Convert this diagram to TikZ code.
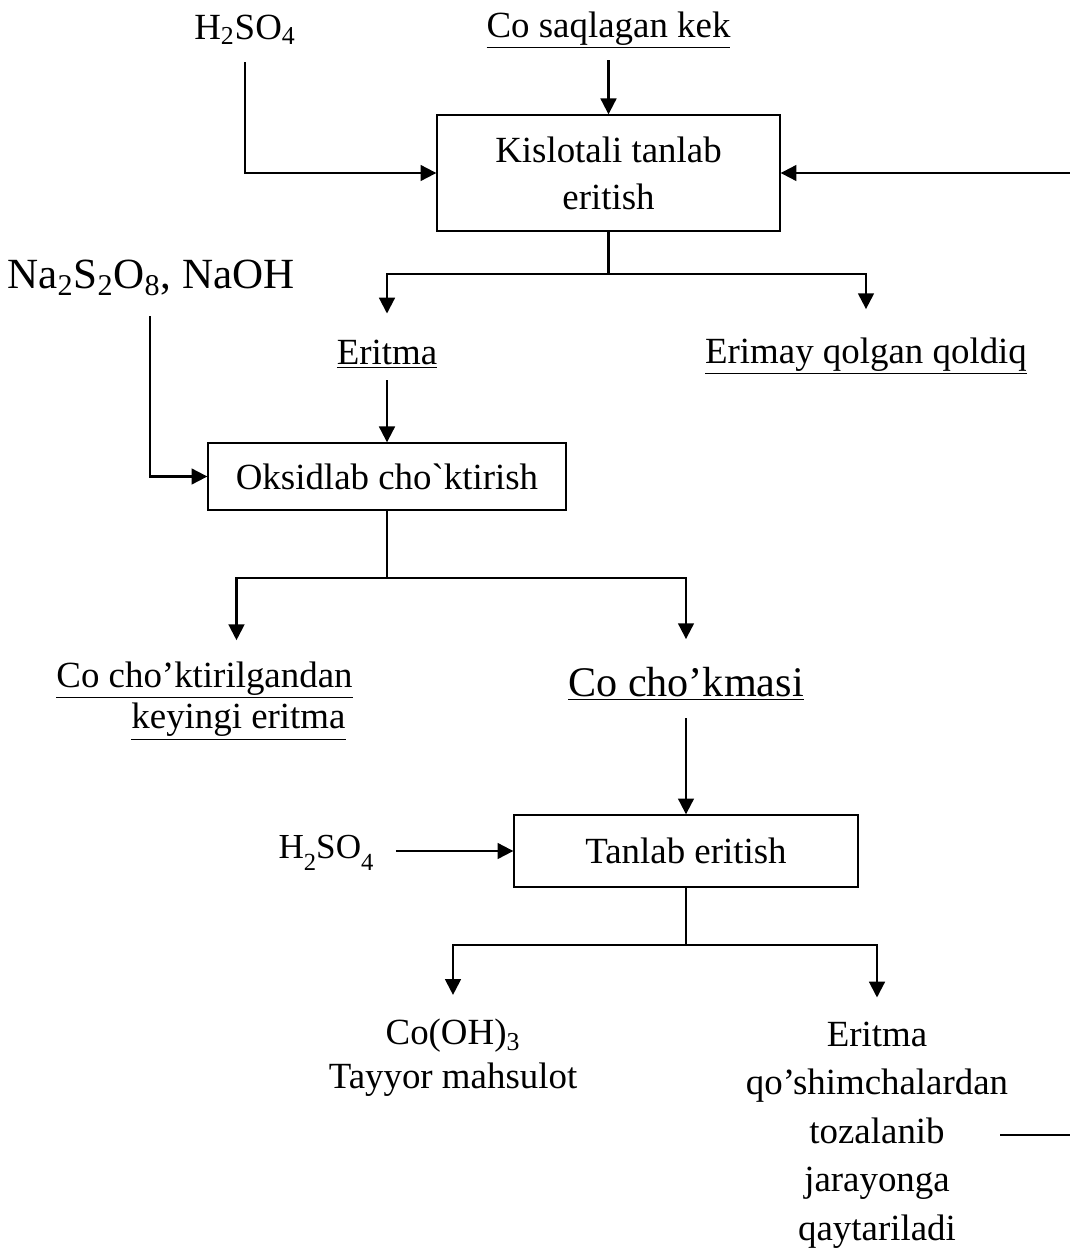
\documentclass[tikz,border=0pt]{standalone}
\usepackage{fontspec}
\setmainfont{Liberation Serif}
\usetikzlibrary{arrows.meta}
\newcommand{\lowsub}[1]{\raisebox{-7pt}{\fontsize{14}{14}\selectfont #1}}

\begin{document}
\begin{tikzpicture}[x=0.02cm,y=-0.02cm,
    flow/.style={-{Triangle[length=9pt,width=9pt]},line width=1.2pt},
    line/.style={line width=1.2pt},
    box/.style={draw,line width=0.8pt,inner sep=0pt,align=center,
                font=\fontsize{21}{26.7}\selectfont},
    lbl/.style={inner sep=0pt,align=center,font=\fontsize{21}{27.6}\selectfont}]
    \useasboundingbox (0,0) rectangle (1070,1251);
    %leaching
    \node [lbl] (acid1) at (245,30) {H\textsubscript{2}SO\textsubscript{4}};
    \node [lbl] (kek) at (608.5,30) {\underline{Co saqlagan kek}};
    \node [box,minimum width=6.86cm,minimum height=2.32cm] (leach) at (608.5,173)
          {Kislotali tanlab\\eritish};
    \coordinate (edgetop) at (1070,173);
    \draw [flow] (kek) ++(0,30) -- (leach.north);
    \draw [flow] (acid1) ++(0,32) |- (leach.west);
    \draw [flow] (edgetop) -- (leach.east);
    \node [lbl] (eritma) at (387,354) {\underline{Eritma}};
    \node [lbl] (residue1) at (866,356) {\underline{Erimay qolgan qoldiq}};
    \draw [line] (leach.south) -- ++(0,42) coordinate (split1);
    \draw [flow,shorten >=0.52cm] (split1) -| (eritma.north);
    \draw [flow,shorten >=0.56cm] (split1) -| (residue1.north);
    %oxidation
    \node [lbl,font=\fontsize{24.5}{30}\selectfont] (naoh) at (151,278)
          {Na\textsubscript{2}S\textsubscript{2}O\textsubscript{8}, NaOH};
    \node [box,minimum width=7.16cm,minimum height=1.34cm] (oxid) at (387,476.5)
          {Oksidlab cho\textasciigrave ktirish};
    \draw [flow] (naoh) ++(-1,38) |- (oxid.west);
    \draw [flow] (eritma) ++(0,26) -- (oxid.north);
    \node [lbl,align=left,font=\fontsize{21}{23.8}\selectfont] (residue2) at (204.5,701)
          {\underline{Co cho’ktirilgandan}\\\hspace*{1.5cm}\underline{keyingi eritma}};
    \node [lbl,font=\fontsize{24}{29}\selectfont] (kmasi) at (686,684) {\underline{Co cho’kmasi}};
    \draw [line] (oxid.south) -- ++(0,67) coordinate (split2);
    \draw [flow,shorten >=0.42cm] (split2) -| ([xshift=0.64cm]residue2.north);
    \draw [flow,shorten >=0.56cm] (split2) -| (kmasi.north);
    %dissolution
    \node [lbl,font=\fontsize{20}{24}\selectfont] (acid2) at (326,853)
          {H\lowsub{2}SO\lowsub{4}};
    \node [box,minimum width=6.88cm,minimum height=1.44cm] (tanlab) at (686,851)
          {Tanlab eritish};
    \draw [flow] (kmasi) ++(0,34) -- (tanlab.north);
    \draw [flow] (acid2.east) ++(22,-2) -- (tanlab.west);
    \node [lbl,font=\fontsize{21}{25}\selectfont] (product) at (453,1058)
          {Co(OH)\textsubscript{3}\\Tayyor mahsulot};
    \node [lbl] (recycle) at (877,1135)
          {Eritma\\qo’shimchalardan\\tozalanib\\jarayonga\\qaytariladi};
    \draw [line] (tanlab.south) -- ++(0,57) coordinate (split3);
    \draw [flow,shorten >=0.48cm] (split3) -| (product.north);
    \draw [flow,shorten >=0.48cm] (split3) -| (recycle.north);
    \coordinate (edgebot) at (1070,1135);
    \draw [line] (recycle) ++(123,0) -- (edgebot);
\end{tikzpicture}
\end{document}
